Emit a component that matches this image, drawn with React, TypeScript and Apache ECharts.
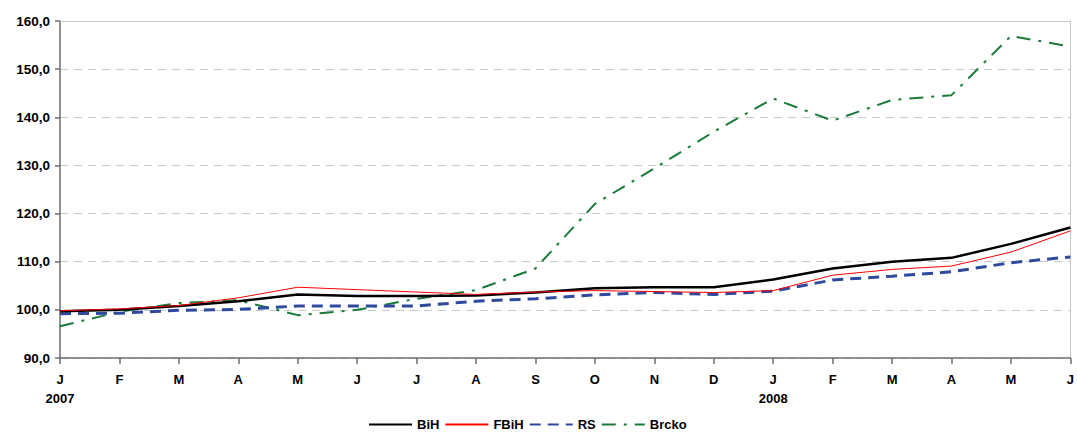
import React, { useEffect, useRef } from "react";
import * as echarts from "echarts";

const months = ["J", "F", "M", "A", "M", "J", "J", "A", "S", "O", "N", "D", "J", "F", "M", "A", "M", "J"];
const years = ["2007", "", "", "", "", "", "", "", "", "", "", "", "2008", "", "", "", "", ""];
const yTicks = [90, 100, 110, 120, 130, 140, 150, 160];

const bih = [99.7, 100.0, 100.8, 101.8, 103.2, 102.9, 102.9, 103.0, 103.6, 104.5, 104.7, 104.7, 106.3, 108.6, 110.0, 110.8, 113.7, 117.1];
const fbih = [99.8, 100.2, 100.9, 102.5, 104.7, 104.2, 103.7, 103.2, 103.7, 104.0, 103.8, 103.6, 104.0, 107.2, 108.4, 109.1, 112.0, 116.4];
const rs = [99.2, 99.3, 99.9, 100.1, 100.8, 100.8, 100.8, 101.8, 102.3, 103.1, 103.6, 103.2, 103.9, 106.2, 107.0, 107.9, 109.8, 111.0];
const brcko = [96.6, 99.6, 101.4, 102.0, 98.9, 100.0, 102.3, 104.1, 108.6, 122.0, 129.4, 137.0, 143.9, 139.3, 143.6, 144.6, 156.9, 154.7];

const cats = months.map((m, i) => (years[i] ? m + "\n" + years[i] : m));

export default function App() {
  const ref = useRef<HTMLDivElement>(null);
  useEffect(() => {
    if (!ref.current) return;
    const chart = echarts.init(ref.current, undefined, { renderer: "svg" });
    const font = "Liberation Sans, Arial, sans-serif";
    chart.setOption({
      animation: false,
      backgroundColor: "#ffffff",
      grid: { left: 60, right: 5, top: 21, bottom: 75 },
      legend: {
        bottom: -3,
        left: 363,
        itemWidth: 43,
        itemHeight: 10,
        itemGap: 5,
        itemStyle: { opacity: 0 },
        textStyle: { fontFamily: font, fontWeight: "bold", fontSize: 13, color: "#000" },
        data: ["BiH", "FBiH", "RS", "Brcko"],
      },
      xAxis: [
        {
          type: "category",
          data: cats,
          boundaryGap: false,
          axisLine: { lineStyle: { color: "#6e6e6e", width: 1.5 } },
          axisTick: { show: true, length: 6, lineStyle: { color: "#6e6e6e", width: 1.5 } },
          axisLabel: {
            interval: 0,
            fontFamily: font,
            fontWeight: "bold",
            fontSize: 13,
            color: "#000",
            margin: 12,
            lineHeight: 19,
          },
          splitLine: { show: false },
        },
        {
          type: "category",
          data: cats,
          boundaryGap: false,
          position: "top",
          axisLine: { lineStyle: { color: "#c8c8c8", width: 1 } },
          axisTick: { show: false },
          axisLabel: { show: false },
          splitLine: { show: false },
        },
      ],
      yAxis: [
        {
          type: "value",
          min: yTicks[0],
          max: yTicks[yTicks.length - 1],
          interval: 10,
          axisLine: { show: true, lineStyle: { color: "#6e6e6e", width: 1.5 } },
          axisTick: { show: true, length: 5, lineStyle: { color: "#6e6e6e", width: 1.5 } },
          axisLabel: {
            fontFamily: font,
            fontWeight: "bold",
            fontSize: 13.5,
            color: "#000",
            margin: 10,
            formatter: (v: number) => v.toFixed(1).replace(".", ","),
          },
          splitLine: { show: true, lineStyle: { color: "#c8c8c8", type: [8, 6], width: 1 } },
        },
        {
          type: "value",
          min: yTicks[0],
          max: yTicks[yTicks.length - 1],
          interval: 10,
          position: "right",
          axisLine: { show: true, lineStyle: { color: "#c8c8c8", width: 1 } },
          axisTick: { show: false },
          axisLabel: { show: false },
          splitLine: { show: false },
        },
      ],
      series: [
        {
          name: "BiH",
          type: "line",
          data: bih,
          symbol: "none",
          z: 4,
          lineStyle: { color: "#000000", width: 2.5 },
          itemStyle: { color: "#000000" },
        },
        {
          name: "FBiH",
          type: "line",
          data: fbih,
          symbol: "none",
          z: 5,
          lineStyle: { color: "#ff0000", width: 1 },
          itemStyle: { color: "#ff0000" },
        },
        {
          name: "RS",
          type: "line",
          data: rs,
          symbol: "none",
          z: 3,
          lineStyle: { color: "#2e4a9e", width: 3, type: [11, 7] },
          itemStyle: { color: "#2e4a9e" },
        },
        {
          name: "Brcko",
          type: "line",
          data: brcko,
          symbol: "none",
          z: 2,
          lineStyle: { color: "#1a7a3a", width: 2, type: [14, 8, 3, 8] },
          itemStyle: { color: "#1a7a3a" },
        },
      ],
    });
    return () => chart.dispose();
  }, []);
  return <div ref={ref} style={{ position: "fixed", left: 0, top: 0, width: 1077, height: 433 }} />;
}
